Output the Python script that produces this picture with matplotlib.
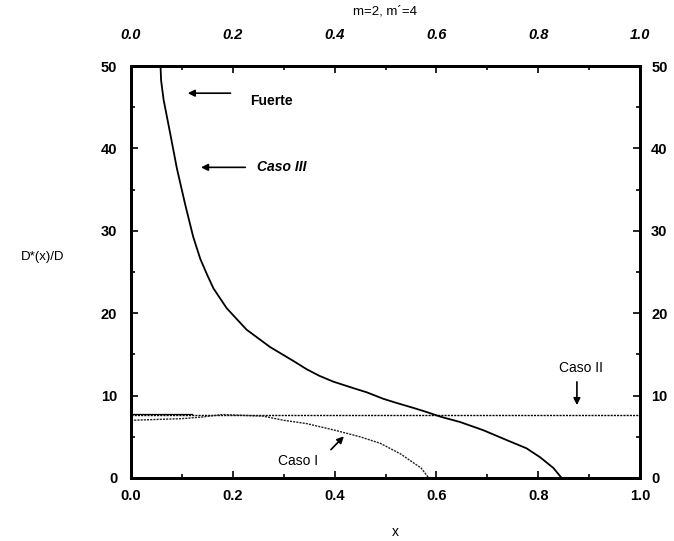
import matplotlib
matplotlib.use("Agg")
import matplotlib.pyplot as plt
from matplotlib.ticker import MultipleLocator

plt.rcParams['font.family'] = ['Liberation Sans', 'DejaVu Sans']

# ---- data ----
caso3_x = [0.058, 0.059, 0.064, 0.077, 0.090, 0.106, 0.122, 0.136, 0.150, 0.162, 0.188,
           0.227, 0.273, 0.319, 0.345, 0.370, 0.397, 0.437, 0.463, 0.496, 0.522, 0.555,
           0.581, 0.610, 0.646, 0.692, 0.738, 0.777, 0.804, 0.830, 0.846]
caso3_y = [50.0, 48.3, 45.9, 41.8, 37.6, 33.3, 29.3, 26.6, 24.6, 23.0, 20.6,
           18.0, 15.9, 14.2, 13.2, 12.4, 11.7, 10.9, 10.4, 9.6, 9.1, 8.5,
           8.0, 7.4, 6.8, 5.8, 4.6, 3.6, 2.5, 1.2, 0.0]

caso1_x = [0.0, 0.05, 0.10, 0.14, 0.18, 0.22, 0.26, 0.30, 0.345, 0.40, 0.45, 0.49, 0.53, 0.57, 0.585]
caso1_y = [7.0, 7.1, 7.2, 7.4, 7.7, 7.6, 7.5, 7.0, 6.6, 5.8, 5.0, 4.2, 2.9, 1.2, 0.0]

caso2_x = [0.0, 1.0]
caso2_y = [7.6, 7.6]
caso2_solid_x = [0.0, 0.12]
caso2_solid_y = [7.8, 7.8]

x_ticks = [0.0, 0.2, 0.4, 0.6, 0.8, 1.0]
x_ticklabels = ["0.0", "0.2", "0.4", "0.6", "0.8", "1.0"]
y_ticks = [0, 10, 20, 30, 40, 50]
y_ticklabels = ["0", "10", "20", "30", "40", "50"]

title = "m=2, m\u00b4=4"
xlabel = "x"
ylabel = "D*(x)/D"

# ---- figure ----
fig = plt.figure(figsize=(6.74, 5.41), dpi=100)
ax = fig.add_axes([0.1944, 0.1165, 0.7552, 0.7615])

ax.plot(caso3_x, caso3_y, color='black', lw=1.3)
ax.plot(caso2_x, caso2_y, color='black', lw=1.0, ls=(0, (1.5, 0.8)))
ax.plot(caso2_solid_x, caso2_solid_y, color='black', lw=0.9)
ax.plot(caso1_x, caso1_y, color='#222222', lw=1.0, ls=(0, (1.5, 0.8)))

ax.set_xlim(0, 1)
ax.set_ylim(0, 50)

ax.set_xticks(x_ticks)
ax.set_xticklabels(x_ticklabels, fontweight='bold', fontsize=10.5)
ax.set_yticks(y_ticks)
ax.set_yticklabels(y_ticklabels, fontweight='bold', fontsize=10.5)
ax.xaxis.set_minor_locator(MultipleLocator(0.1))
ax.yaxis.set_minor_locator(MultipleLocator(5))
ax.tick_params(which='both', direction='in', length=5, width=1.2)
ax.tick_params(which='minor', length=3)
ax.tick_params(axis='x', pad=8)
ax.tick_params(axis='y', pad=10)
for s in ax.spines.values():
    s.set_linewidth(2)

# right axis
axr = ax.twinx()
axr.set_ylim(0, 50)
axr.set_yticks(y_ticks)
axr.set_yticklabels(y_ticklabels, fontweight='bold', fontsize=10.5)
axr.yaxis.set_minor_locator(MultipleLocator(5))
axr.tick_params(which='both', direction='in', length=5, width=1.2, pad=8)
axr.tick_params(which='minor', length=3)

# top axis
axt = ax.twiny()
axt.set_xlim(0, 1)
axt.set_xticks(x_ticks)
axt.set_xticklabels(x_ticklabels, fontweight='bold', fontstyle='italic', fontsize=10.5)
axt.xaxis.set_minor_locator(MultipleLocator(0.1))
axt.tick_params(which='both', direction='in', length=5, width=1.2, pad=17)
axt.tick_params(which='minor', length=3)
for a in (axr, axt):
    for s in a.spines.values():
        s.set_linewidth(2)

# labels
fig.text(385 / 674, 1 - 12 / 541, title, ha='center', va='center', fontsize=9.5)
ax.text(0.52, -0.13, xlabel, transform=ax.transAxes, ha='center', va='center', fontsize=10)
ax.text(-0.173, 0.536, ylabel, transform=ax.transAxes, ha='center', va='center', fontsize=9.5)

# annotations
arrow = dict(arrowstyle='-|>', color='black', lw=1.2, mutation_scale=10)
ax.annotate("", xy=(0.106, 46.7), xytext=(0.201, 46.7), arrowprops=arrow)
ax.text(0.234, 45.8, "Fuerte", ha='left', va='center', fontsize=10, fontweight='bold')
ax.annotate("", xy=(0.132, 37.7), xytext=(0.23, 37.7), arrowprops=arrow)
ax.text(0.247, 37.7, "Caso III", ha='left', va='center', fontsize=10,
        fontweight='bold', fontstyle='italic')
ax.annotate("", xy=(0.876, 8.5), xytext=(0.876, 12.0), arrowprops=arrow)
ax.text(0.885, 13.4, "Caso II", ha='center', va='center', fontsize=10)
ax.annotate("", xy=(0.422, 5.3), xytext=(0.389, 3.2), arrowprops=arrow)
ax.text(0.329, 2.0, "Caso I", ha='center', va='center', fontsize=10)

fig.savefig("out.png", dpi=100)
